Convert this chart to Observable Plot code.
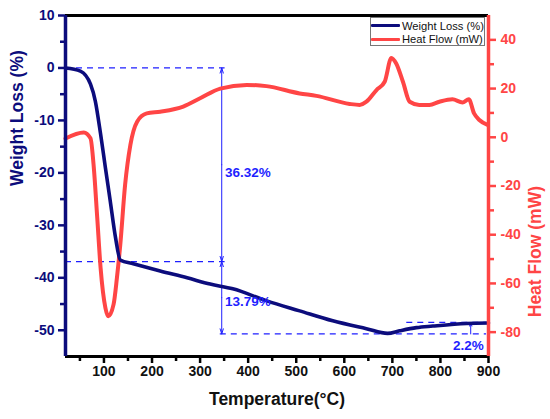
<!DOCTYPE html>
<html>
<head>
<meta charset="utf-8">
<script src="https://cdn.jsdelivr.net/npm/d3@7"></script>
<script src="https://cdn.jsdelivr.net/npm/@observablehq/plot@0.6"></script>
<style>
  html, body { margin: 0; padding: 0; background: #fff; }
  #wrap { position: relative; width: 550px; height: 419px; }
  #wrap svg text { font-weight: bold; }
  #legend {
    position: absolute; left: 370px; top: 17px; width: 115px; height: 29px;
    border: 1px solid #777; background: #fff; box-sizing: border-box;
    font-family: "Liberation Sans", Arial, sans-serif; font-size: 11.2px; color: #111;
    white-space: nowrap; overflow: hidden;
  }
  #legend .row { position: absolute; left: 0; height: 13px; display: flex; align-items: center; }
  #legend .sw { width: 29px; height: 3px; margin-right: 2px; border-radius: 1px; flex: none; }
</style>
</head>
<body>
<div id="wrap"></div>
<script>
// ---- data ----
const wlTemp  = [20, 51, 72, 82, 93, 103, 113, 124, 134, 161, 217, 273, 321, 368, 439, 507, 576, 646, 690, 715, 750, 784, 854, 900];
const wlValue = [0, -0.6, -3.1, -6.3, -12.6, -19, -25.3, -32.3, -36.6, -37.3, -38.7, -40.0, -41.2, -42.1, -44.4, -46.3, -48.2, -49.7, -50.6, -50.1, -49.5, -49.2, -48.7, -48.6];

const hfTemp  = [20, 58, 72, 79, 86, 93, 103, 109, 120, 127, 134, 144, 155, 169, 189, 217, 265, 300, 342, 397, 438, 507, 542, 611, 632, 646, 667, 684, 698, 708, 722, 736, 756, 777, 798, 825, 846, 859, 870, 881, 898];
const hfValue = [-0.5, 2.0, -0.4, -12.7, -33, -53.6, -70, -73.5, -68.6, -57.7, -44, -19.5, -3.1, 6.4, 9.8, 10.5, 12.6, 16, 20, 21.5, 21, 18, 17, 13.7, 13.3, 14.6, 19.4, 22.8, 32.6, 30.3, 22.8, 14.6, 13.3, 13.3, 14.6, 15.6, 14.3, 15.6, 9.8, 7.1, 5.1];

const xMajor = [100, 200, 300, 400, 500, 600, 700, 800, 900];
const xMinor = [50, 150, 250, 350, 450, 550, 650, 750, 850];
const yMajor = [10, 0, -10, -20, -30, -40, -50];
const yMinor = [5, -5, -15, -25, -35, -45];
const hMajor = [40, 20, 0, -20, -40, -60, -80];
const hMinor = [30, 10, -10, -30, -50, -70];

// dashed reference lines (weight levels)
const dashY  = [0, -36.9, -50.7, -48.5];
const dashX1 = [20, 20, 342, 730];
const dashX2 = [352, 352, 896, 896];

// annotations
const arrowX  = [345, 345, 863];
const arrowY1 = [0, -36.9, -50.7];
const arrowY2 = [-36.9, -50.7, -48.5];
const labels  = ["36.32%", "13.79%", "2.2%"];
const labelX  = [352, 352, 890];
const labelY  = [-20.0, -44.6, -53.0];
const labelAnchor = ["start", "start", "end"];

const xDomain = [20, 900];
const yDomain = [-55, 10];
const hDomain = [-90, 50];

const navy = "#0c0c7c";
const red = "#ff4545";
const blue = "#1f1fff";

// map heat-flow values onto the left (weight) scale
const h2w = d3.scaleLinear().domain(hDomain).range(yDomain);
const w2h = h2w.invert;

const wl = wlTemp.map((t, i) => ({t, v: wlValue[i]}));
const hf = hfTemp.map((t, i) => ({t, v: h2w(hfValue[i])}));
const dashes = dashY.map((y, i) => ({y, x1: dashX1[i], x2: dashX2[i]}));
const arrows = [];
arrowX.forEach((x, i) => {
  const a = arrowY1[i], b = arrowY2[i];
  if (i < 2) {
    const m = (a + b) / 2;
    arrows.push({x, y1: m, y2: a}, {x, y1: m, y2: b});
  } else {
    arrows.push({x, y1: a, y2: b});
  }
});
const labs = labels.map((s, i) => ({s, x: labelX[i], y: labelY[i], a: labelAnchor[i]}));

const font = "Liberation Sans, Arial, Helvetica, sans-serif";
const [x0, x1] = xDomain, [y0, y1] = yDomain;

const chart = Plot.plot({
  width: 550,
  height: 419,
  marginLeft: 65,
  marginRight: 62,
  marginTop: 15,
  marginBottom: 63,
  x: {domain: xDomain},
  y: {domain: yDomain},
  style: {fontFamily: font, background: "white"},
  marks: [
    // dashed reference lines
    Plot.ruleY(dashes, {y: "y", x1: "x1", x2: "x2", stroke: blue, strokeWidth: 1.3, strokeDasharray: "6,5"}),
    // arrows
    Plot.arrow(arrows, {x: "x", y1: "y1", y2: "y2", x1: "x", x2: "x", stroke: blue, strokeWidth: 1, headLength: 8, headAngle: 35}),
    // curves
    Plot.line(hf, {x: "t", y: "v", stroke: red, strokeWidth: 4, curve: "monotone-x"}),
    Plot.line(wl, {x: "t", y: "v", stroke: navy, strokeWidth: 3.6, curve: "monotone-x"}),
    // annotation labels
    Plot.text(labs, {x: "x", y: "y", text: "s", textAnchor: "start", fill: blue, fontSize: 13.5, fontWeight: "bold", filter: d => d.a === "start"}),
    Plot.text(labs, {x: "x", y: "y", text: "s", textAnchor: "end", fill: blue, fontSize: 13.5, fontWeight: "bold", filter: d => d.a === "end"}),
    // frame lines
    Plot.ruleY([y1], {stroke: "black", strokeWidth: 3}),
    Plot.ruleY([y0], {stroke: "black", strokeWidth: 3}),
    Plot.ruleX([x0], {stroke: navy, strokeWidth: 3.5}),
    Plot.ruleX([x1], {stroke: red, strokeWidth: 3.5}),
    // axes (outward ticks)
    Plot.axisX({ticks: xMajor, tickSize: 7, tickPadding: 3, stroke: "black", strokeWidth: 2.5, fill: "#111", fontSize: 14, tickFormat: d => d, label: null}),
    Plot.axisX({ticks: xMinor, tickSize: 5, stroke: "black", strokeWidth: 2.5, text: null, label: null}),
    Plot.axisY({ticks: yMajor, tickSize: 7, tickPadding: 4, stroke: navy, strokeWidth: 2.5, fill: navy, fontSize: 14, tickFormat: d => d, label: null}),
    Plot.axisY({ticks: yMinor, tickSize: 5, stroke: navy, strokeWidth: 2.5, text: null, label: null}),
    Plot.axisY({ticks: hMajor.map(h2w), anchor: "right", tickSize: 7, tickPadding: 5, stroke: red, strokeWidth: 2.5, fill: red, fontSize: 14, tickFormat: d => Math.round(w2h(d)), label: null}),
    Plot.axisY({ticks: hMinor.map(h2w), anchor: "right", tickSize: 5, stroke: red, strokeWidth: 2.5, text: null, label: null}),
    // axis titles
    Plot.text(["Temperature(°C)"], {frameAnchor: "bottom", dy: 48, text: d => d, fill: "#111", fontSize: 17.5, fontWeight: "bold"}),
    Plot.text(["Weight Loss (%)"], {frameAnchor: "left", dx: -48, rotate: -90, text: d => d, fill: navy, fontSize: 17.5, fontWeight: "bold"}),
    Plot.text(["Heat Flow (mW)"], {frameAnchor: "right", dx: 47, rotate: -90, text: d => d, fill: red, fontSize: 17.5, fontWeight: "bold"})
  ]
});

const wrap = document.getElementById("wrap");
wrap.appendChild(chart);

// legend
const legendItems = ["Weight Loss (%)", "Heat Flow (mW)"];
const legendColors = [navy, red];
const legend = document.createElement("div");
legend.id = "legend";
legendItems.forEach((name, i) => {
  const row = document.createElement("div");
  row.className = "row";
  row.style.top = (1 + i * 13.5) + "px";
  const sw = document.createElement("span");
  sw.className = "sw";
  sw.style.background = legendColors[i];
  const tx = document.createElement("span");
  tx.textContent = name;
  row.appendChild(sw);
  row.appendChild(tx);
  legend.appendChild(row);
});
wrap.appendChild(legend);
</script>
</body>
</html>
